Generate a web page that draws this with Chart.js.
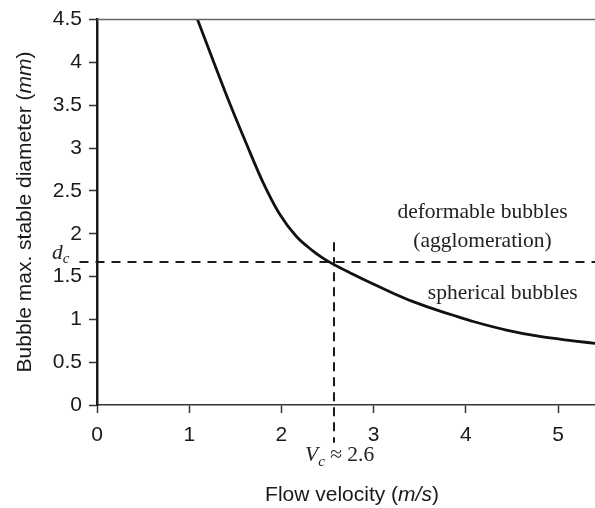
<!DOCTYPE html>
<html>
<head>
<meta charset="utf-8">
<script src="https://cdn.jsdelivr.net/npm/chart.js@4.4.1/dist/chart.umd.min.js"></script>
<style>
    html, body { margin: 0; padding: 0; background: #fff; }
</style>
</head>
<body>
<canvas id="chart" width="595" height="508"></canvas>
<script>
// Max. stable bubble diameter vs flow velocity
const velocity = [1.09, 1.26, 1.44, 1.62, 1.80, 1.98, 2.16, 2.34, 2.45, 2.56, 2.77, 2.99, 3.21, 3.42, 3.64, 3.90, 4.08, 4.44, 4.80, 5.16, 5.40];
const diameter = [4.50, 4.02, 3.52, 3.05, 2.60, 2.23, 1.97, 1.80, 1.715, 1.645, 1.53, 1.415, 1.305, 1.21, 1.125, 1.035, 0.975, 0.875, 0.80, 0.75, 0.72];

const xTicks = [0, 1, 2, 3, 4, 5];
const yTicks = [0, 0.5, 1, 1.5, 2, 2.5, 3, 3.5, 4, 4.5];

// critical point
const criticalVelocity = 2.57;
const criticalDiameter = 1.67;
const vLineSpan = [1.9, -0.44];   // diameter range of the vertical guide
const hLineSpan = [-0.19, 5.4];   // velocity range of the horizontal guide

const SANS = '"Liberation Sans", Arial, sans-serif';
const SERIF = '"Liberation Serif", "Times New Roman", serif';

// draws a row of text pieces with different fonts, centred on x
function drawRuns(ctx, runs, x, y, align) {
    let total = 0;
    runs.forEach(r => { ctx.font = r.font; total += ctx.measureText(r.text).width; });
    let cx = align === 'left' ? x : x - total / 2;
    runs.forEach(r => {
        ctx.font = r.font;
        ctx.fillText(r.text, cx, y + (r.dy || 0));
        cx += ctx.measureText(r.text).width;
    });
}

const textPlugin = {
    id: 'texts',
    afterDraw(chart) {
        const ctx = chart.ctx;
        const xs = chart.scales.x;
        const ys = chart.scales.y;
        const area = chart.chartArea;
        ctx.save();

        // top frame line
        ctx.strokeStyle = '#666';
        ctx.lineWidth = 1.5;
        ctx.beginPath();
        ctx.moveTo(area.left, area.top);
        ctx.lineTo(area.right, area.top);
        ctx.stroke();

        ctx.fillStyle = '#1a1a1a';
        ctx.textBaseline = 'alphabetic';
        ctx.textAlign = 'left';

        // x axis title
        drawRuns(ctx, [
            { text: 'Flow velocity (', font: '21px ' + SANS },
            { text: 'm/s', font: 'italic 21px ' + SANS },
            { text: ')', font: '21px ' + SANS }
        ], 352, 501);

        // y axis title
        ctx.save();
        ctx.translate(31, 212);
        ctx.rotate(-Math.PI / 2);
        drawRuns(ctx, [
            { text: 'Bubble max. stable diameter (', font: '21px ' + SANS },
            { text: 'mm', font: 'italic 21px ' + SANS },
            { text: ')', font: '21px ' + SANS }
        ], 0, 0);
        ctx.restore();

        // region labels
        ctx.fillStyle = '#222';
        drawRuns(ctx, [{ text: 'deformable bubbles', font: '21.5px ' + SERIF }],
            xs.getPixelForValue(4.18), ys.getPixelForValue(2.18));
        drawRuns(ctx, [{ text: '(agglomeration)', font: '21.5px ' + SERIF }],
            xs.getPixelForValue(4.18), ys.getPixelForValue(1.84));
        drawRuns(ctx, [{ text: 'spherical bubbles', font: '21.5px ' + SERIF }],
            xs.getPixelForValue(4.40), ys.getPixelForValue(1.24));

        // d_c label left of the axis
        drawRuns(ctx, [
            { text: 'd', font: 'italic 21.5px ' + SERIF },
            { text: 'c', font: 'italic 15px ' + SERIF, dy: 4 }
        ], 52, ys.getPixelForValue(criticalDiameter) - 3, 'left');

        // V_c label below the axis
        drawRuns(ctx, [
            { text: 'V', font: 'italic 21.5px ' + SERIF },
            { text: 'c', font: 'italic 15px ' + SERIF, dy: 5 },
            { text: ' \u2248 2.6', font: '21.5px ' + SERIF }
        ], 305, 461, 'left');

        ctx.restore();
    }
};

new Chart(document.getElementById('chart'), {
    type: 'scatter',
    data: {
        datasets: [
            {
                label: 'critical diameter',
                data: hLineSpan.map(v => ({ x: v, y: criticalDiameter })),
                showLine: true,
                borderColor: '#1a1a1a',
                borderWidth: 2,
                borderDash: [9, 7],
                pointRadius: 0,
                clip: false
            },
            {
                label: 'critical velocity',
                data: vLineSpan.map(v => ({ x: criticalVelocity, y: v })),
                showLine: true,
                borderColor: '#1a1a1a',
                borderWidth: 2,
                borderDash: [9, 6],
                pointRadius: 0,
                clip: false
            },
            {
                label: 'max. stable diameter',
                data: velocity.map((v, i) => ({ x: v, y: diameter[i] })),
                showLine: true,
                borderColor: '#111',
                borderWidth: 2.8,
                pointRadius: 0,
                cubicInterpolationMode: 'monotone'
            }
        ]
    },
    options: {
        responsive: false,
        animation: false,
        layout: { padding: { top: 18, right: 0, left: 0, bottom: 0 } },
        plugins: {
            legend: { display: false },
            tooltip: { enabled: false }
        },
        scales: {
            x: {
                type: 'linear',
                min: 0,
                max: 5.4,
                afterBuildTicks: s => { s.ticks = xTicks.map(v => ({ value: v })); },
                afterFit: s => { s.height = 103; },
                border: { color: '#333', width: 1.5 },
                grid: { drawOnChartArea: false, tickLength: 8, tickColor: '#333', tickWidth: 1.5 },
                ticks: {
                    padding: 10,
                    color: '#1a1a1a',
                    font: { family: SANS, size: 21 },
                    maxRotation: 0,
                    callback: v => String(v)
                }
            },
            y: {
                type: 'linear',
                min: 0,
                max: 4.5,
                afterBuildTicks: s => { s.ticks = yTicks.map(v => ({ value: v })); },
                afterFit: s => { s.width = 97; },
                border: { color: '#1a1a1a', width: 2.5 },
                grid: { drawOnChartArea: false, tickLength: 8, tickColor: '#333', tickWidth: 1.5 },
                ticks: {
                    padding: 7,
                    color: '#1a1a1a',
                    font: { family: SANS, size: 21 },
                    callback: v => String(v)
                }
            }
        }
    },
    plugins: [textPlugin]
});
</script>
</body>
</html>
